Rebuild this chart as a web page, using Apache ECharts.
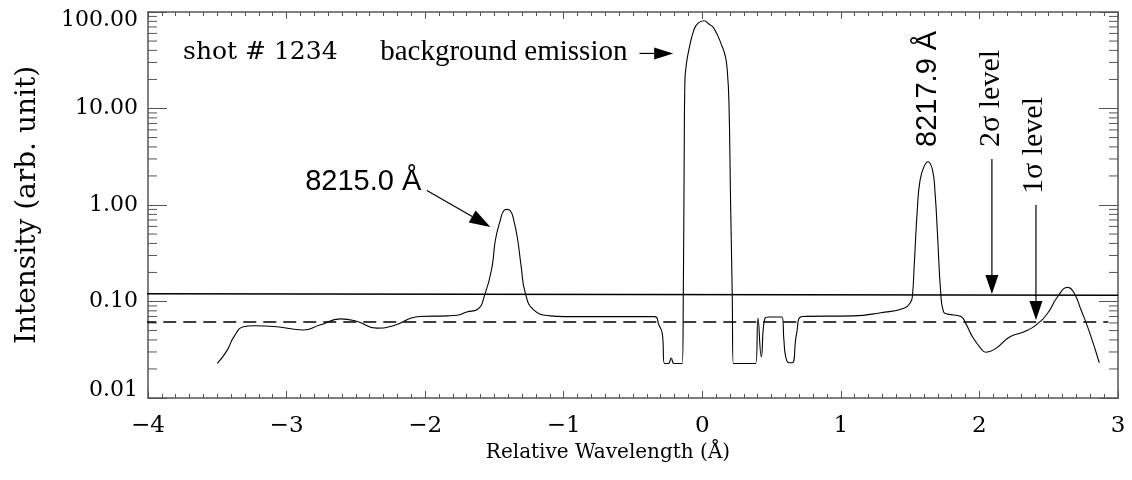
<!DOCTYPE html>
<html>
<head>
<meta charset="utf-8">
<script src="https://cdn.jsdelivr.net/npm/echarts@6/dist/echarts.min.js"></script>
<style>
  html, body { margin: 0; padding: 0; background: #fff; }
  #chart { width: 1132px; height: 480px; }
</style>
</head>
<body>
<div id="chart"></div>
<script>
// spectrum
var wavelength = [
  -3.50, -3.43, -3.38, -3.31, -3.24, -3.07, -2.88, -2.76, -2.61, -2.49, -2.35, -2.23, -2.04, -1.84, -1.77, -1.70,
  -1.626, -1.566, -1.517, -1.493, -1.457, -1.433, -1.409, -1.385, -1.361, -1.332, -1.307, -1.277, -1.217, -1.096, -1.00,
  -0.345, -0.313, -0.289, -0.272, -0.245, -0.224, -0.205, -0.145,
  -0.137, -0.131, -0.126, -0.114, -0.097, -0.061, -0.032, 0.012, 0.048, 0.084, 0.144, 0.167, 0.18, 0.192, 0.204, 0.216, 0.224,
  0.385, 0.402, 0.426, 0.452, 0.481, 0.575, 0.589, 0.602, 0.626, 0.650, 0.681, 0.722,
  1.095, 1.288, 1.456, 1.505, 1.517, 1.529, 1.553, 1.572, 1.60, 1.629, 1.661, 1.680, 1.697, 1.721, 1.741, 1.770,
  1.866, 1.902, 1.950, 2.010, 2.046, 2.119, 2.215, 2.323, 2.408, 2.492, 2.564, 2.637, 2.684, 2.733, 2.793, 2.865
];
var intensity = [
  0.0228, 0.031, 0.043, 0.0548, 0.056, 0.0548, 0.0507, 0.057, 0.066, 0.062, 0.053, 0.056, 0.070, 0.071, 0.072, 0.078,
  0.082, 0.122, 0.23, 0.434, 0.70, 0.873, 0.90, 0.873, 0.70, 0.434, 0.23, 0.122, 0.082, 0.071, 0.0697,
  0.0697, 0.057, 0.047, 0.0228, 0.0228, 0.026, 0.0228, 0.0228,
  0.122, 2.5, 18.2, 29.4, 40.4, 65, 76.4, 81.3, 75.1, 67.8, 43.7, 34.4, 25, 12.2, 1.13, 0.122, 0.0228,
  0.0228, 0.067, 0.0268, 0.067, 0.069, 0.069, 0.040, 0.0268, 0.0232, 0.0232, 0.047, 0.070,
  0.071, 0.0766, 0.085, 0.0995, 0.117, 0.23, 0.96, 1.82, 2.5, 2.81, 2.31, 1.32, 0.51, 0.122, 0.078, 0.074,
  0.070, 0.059, 0.043, 0.0327, 0.0298, 0.0327, 0.0426, 0.0487, 0.057, 0.0755, 0.112, 0.140, 0.122, 0.082, 0.0487, 0.0232
];

// the two noise levels
var level2Sigma = [[-4.053, 0.12], [3, 0.116]];
var level1Sigma = [[-4.034, 0.0613], [2.93, 0.0613]];

var xMin = -4, xMax = 3;
var yMin = 0.01, yMax = 100;

// minor ticks of the log axis: 2..9 in every decade
var yMinorTicks = [];
[0.01, 0.1, 1, 10].forEach(function (d) {
  for (var k = 2; k <= 9; k++) yMinorTicks.push(+(d * k).toPrecision(3));
});

// annotations, anchored in data coordinates
var labels = [
  { text: 'shot # 1234', at: [-3.747, 38.5], font: '25px "DejaVu Serif"', align: 'left' },
  { text: 'background emission', at: [-0.54, 38.5], font: '29px "Liberation Serif"', align: 'right' },
  { text: '8215.0 Å', at: [-2.866, 1.73], font: '29px "Liberation Sans"', align: 'left' },
  { text: '8217.9 Å', at: [1.627, 4.0], font: '29px "Liberation Sans"', align: 'left', rotate: true },
  { text: '2σ level', at: [2.083, 4.0], font: '30px "Liberation Serif"', align: 'left', rotate: true },
  { text: '1σ level', at: [2.393, 1.3], font: '30px "Liberation Serif"', align: 'left', rotate: true }
];
var arrows = [
  { from: [-0.453, 37.2], to: [-0.210, 37.2], len: 19, wid: 12 },
  { from: [-1.987, 1.41], to: [-1.529, 0.592], len: 21, wid: 14 },
  { from: [2.090, 3.0], to: [2.090, 0.1196], len: 19, wid: 13 },
  { from: [2.408, 1.0], to: [2.408, 0.0643], len: 19, wid: 13 }
];

var spectrum = wavelength.map(function (x, i) { return [x, intensity[i]]; });

var axisColor = '#555';
var serif = '"DejaVu Serif", serif';

function xLabel(v) {
  return (v < 0 ? '\u2212' : '') + Math.abs(v);
}
function yLabel(v) {
  var s = (+v).toFixed(2);
  if (+v >= yMax) return '{top|' + s + '}';
  if (+v <= yMin) return '{bot|' + s + '}';
  return s;
}

var chart = echarts.init(document.getElementById('chart'));

var yLabelStyle = { color: '#000', fontFamily: serif, fontSize: 22 };

var option = {
  animation: false,
  backgroundColor: '#fff',
  grid: { left: 148, right: 14, top: 12, bottom: 82, containLabel: false, outerBoundsMode: 'none' },
  xAxis: [
    {
      type: 'value', min: xMin, max: xMax, interval: 1, position: 'bottom',
      axisLine: { show: true, onZero: false, lineStyle: { color: axisColor, width: 1.5 } },
      axisTick: { show: true, inside: true, length: 7, lineStyle: { color: axisColor } },
      minorTick: { show: true, splitNumber: 10, length: 4, lineStyle: { color: axisColor } },
      splitLine: { show: false },
      axisLabel: { formatter: xLabel, color: '#000', fontFamily: serif, fontSize: 23, margin: 17 },
      name: 'Relative Wavelength (Å)', nameLocation: 'middle', nameGap: 41,
      nameTextStyle: { color: '#000', fontFamily: serif, fontSize: 20, padding: [0, 50, 0, 0] }
    },
    {
      type: 'value', min: xMin, max: xMax, interval: 1, position: 'top',
      axisLine: { show: true, onZero: false, lineStyle: { color: axisColor, width: 1.5 } },
      axisTick: { show: true, inside: true, length: 7, lineStyle: { color: axisColor } },
      minorTick: { show: true, splitNumber: 10, length: 4, lineStyle: { color: axisColor } },
      splitLine: { show: false },
      axisLabel: { show: false }
    }
  ],
  yAxis: [
    {
      type: 'log', logBase: 10, min: yMin, max: yMax, position: 'left',
      axisLine: { show: true, onZero: false, lineStyle: { color: axisColor, width: 1.5 } },
      axisTick: { show: true, inside: true, length: 19, lineStyle: { color: axisColor } },
      splitLine: { show: false },
      axisLabel: {
        color: '#000', fontFamily: serif, fontSize: 22, margin: 10, formatter: yLabel,
        rich: {
          top: Object.assign({ padding: [16, 0, 0, 0] }, yLabelStyle),
          bot: Object.assign({ padding: [0, 0, 16, 0] }, yLabelStyle)
        }
      },
      name: 'Intensity (arb. unit)', nameLocation: 'middle', nameRotate: 90, nameGap: 106,
      nameTextStyle: { color: '#000', fontFamily: serif, fontSize: 28 }
    },
    {
      type: 'log', logBase: 10, min: yMin, max: yMax, position: 'right',
      axisLine: { show: true, onZero: false, lineStyle: { color: axisColor, width: 1.5 } },
      axisTick: { show: true, inside: true, length: 19, lineStyle: { color: axisColor } },
      splitLine: { show: false },
      axisLabel: { show: false }
    }
  ],
  series: [
    {
      name: 'minor ticks', type: 'custom', silent: true, clip: false,
      data: yMinorTicks.map(function (v) { return [xMin, v]; }),
      encode: { x: 0, y: 1 },
      renderItem: function (params, api) {
        var v = api.value(1);
        var a = api.coord([xMin, v]);
        var b = api.coord([xMax, v]);
        return {
          type: 'group',
          children: [
            { type: 'line', shape: { x1: a[0], y1: a[1], x2: a[0] + 9, y2: a[1] }, style: { stroke: axisColor, lineWidth: 1 } },
            { type: 'line', shape: { x1: b[0] - 9, y1: b[1], x2: b[0], y2: b[1] }, style: { stroke: axisColor, lineWidth: 1 } }
          ]
        };
      }
    },
    {
      name: 'spectrum', type: 'line', data: spectrum, showSymbol: false, silent: true,
      smooth: 0.5,
      lineStyle: { color: '#000', width: 1.1 }
    },
    {
      name: '2 sigma', type: 'line', data: level2Sigma, showSymbol: false, silent: true, clip: false,
      lineStyle: { color: '#000', width: 1.5 }
    },
    {
      name: '1 sigma', type: 'line', data: level1Sigma, showSymbol: false, silent: true, clip: false,
      lineStyle: { color: '#000', width: 1.5, type: [13, 7] }
    }
  ]
};

chart.setOption(option);

// annotations placed through the chart's own scales
function px(p) {
  return chart.convertToPixel({ xAxisIndex: 0, yAxisIndex: 0 }, p);
}

var elements = [];
labels.forEach(function (l) {
  var p = px(l.at);
  elements.push({
    type: 'text', x: p[0], y: p[1], rotation: l.rotate ? Math.PI / 2 : 0, silent: true,
    style: {
      text: l.text, font: l.font, fill: '#000',
      align: l.align, textAlign: l.align, verticalAlign: 'middle', textVerticalAlign: 'middle'
    }
  });
});
arrows.forEach(function (a) {
  var p0 = px(a.from), p1 = px(a.to);
  var dx = p1[0] - p0[0], dy = p1[1] - p0[1];
  var d = Math.sqrt(dx * dx + dy * dy);
  var ux = dx / d, uy = dy / d;
  var bx = p1[0] - ux * a.len, by = p1[1] - uy * a.len;
  var nx = -uy * a.wid / 2, ny = ux * a.wid / 2;
  elements.push({
    type: 'line', silent: true,
    shape: { x1: p0[0], y1: p0[1], x2: bx, y2: by },
    style: { stroke: '#000', lineWidth: 1.2 }
  });
  elements.push({
    type: 'polygon', silent: true,
    shape: { points: [[p1[0], p1[1]], [bx + nx, by + ny], [bx - nx, by - ny]] },
    style: { fill: '#000' }
  });
});

chart.setOption({ graphic: { elements: elements } });
</script>
</body>
</html>
